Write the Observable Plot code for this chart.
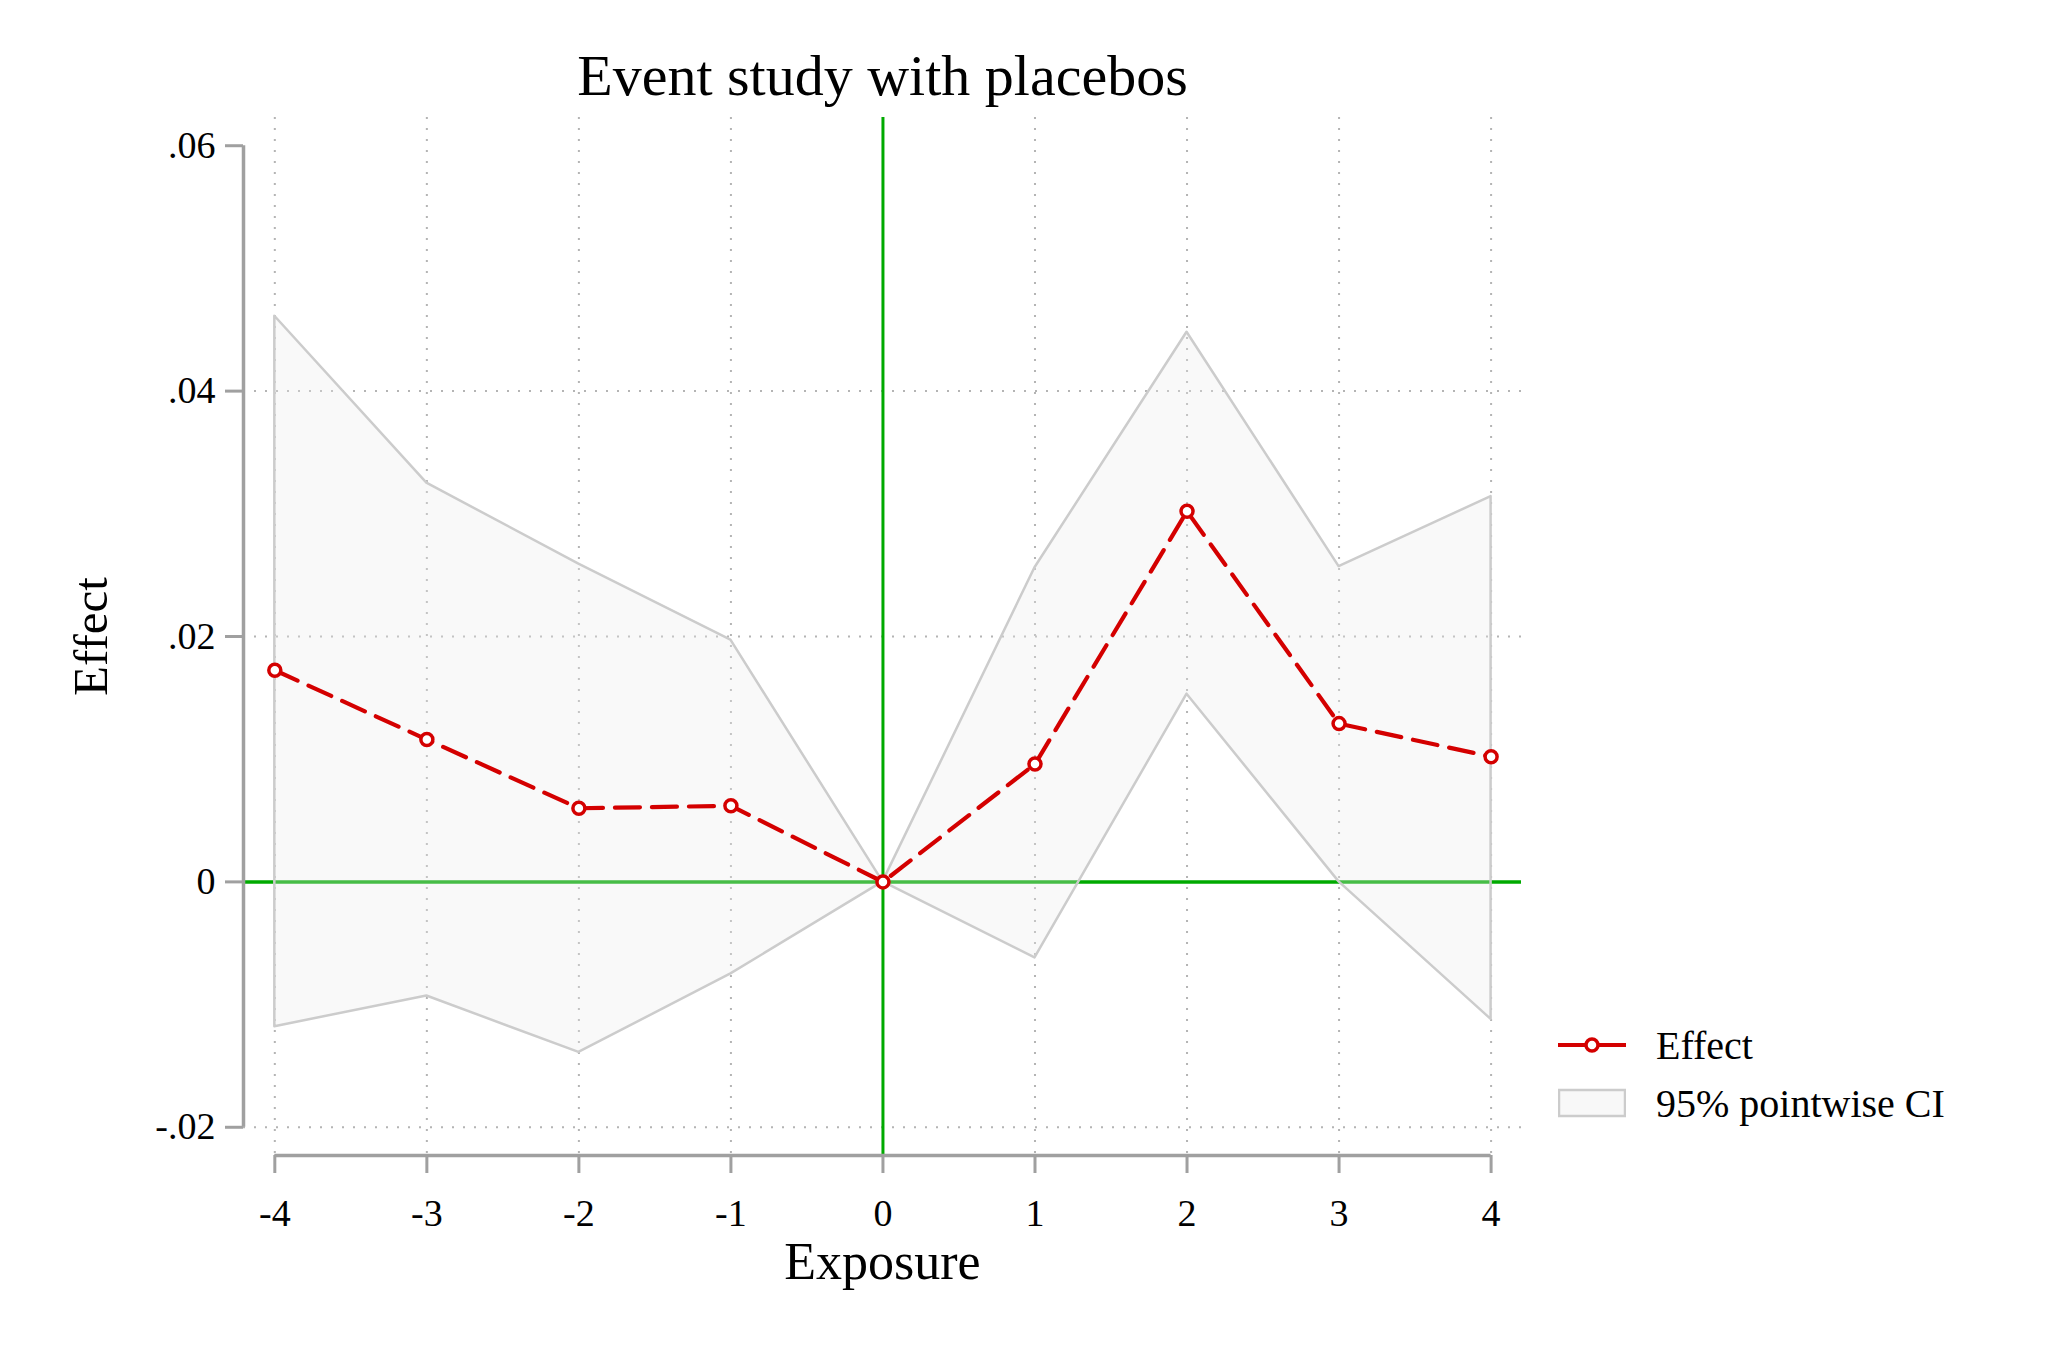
<!DOCTYPE html>
<html>
<head>
<meta charset="utf-8">
<script src="https://cdn.jsdelivr.net/npm/d3@7"></script>
<script src="https://cdn.jsdelivr.net/npm/@observablehq/plot@0.6"></script>
<style>
  html, body { margin: 0; padding: 0; background: #fff; }
  #wrap { position: relative; width: 2048px; height: 1365px; font-family: "Liberation Serif", serif; }
  #legend { position: absolute; left: 1558px; top: 1020px; font-size: 40px; color: #000; }
  .row { display: flex; align-items: center; height: 50px; margin-bottom: 8px; }
  .row svg { margin-right: 30px; }
</style>
</head>
<body>
<div id="wrap">
  <div id="chart"></div>
  <div id="legend">
    <div class="row">
      <svg width="68" height="30"><line x1="0" y1="15" x2="68" y2="15" stroke="#d40000" stroke-width="4.2"/><circle cx="34" cy="15" r="6" fill="#fff" stroke="#d40000" stroke-width="3.5"/></svg>
      <span>Effect</span>
    </div>
    <div class="row">
      <svg width="68" height="30"><rect x="1" y="2" width="66" height="26" fill="#f8f8f8" stroke="#cccccc" stroke-width="2.5"/></svg>
      <span>95% pointwise CI</span>
    </div>
  </div>
</div>
<script>
const exposure = [-4, -3, -2, -1, 0, 1, 2, 3, 4];
const effect   = [0.01725, 0.0116, 0.0060, 0.0062, 0, 0.0096, 0.0302, 0.0129, 0.0102];
const ciLower  = [-0.0118, -0.0093, -0.0139, -0.0075, 0, -0.0062, 0.0153, 0.0000, -0.0112];
const ciUpper  = [0.0461, 0.0325, 0.0259, 0.0197, 0, 0.0256, 0.0448, 0.0257, 0.0314];
const xTicks = [-4, -3, -2, -1, 0, 1, 2, 3, 4];
const yTicks = [-0.02, 0, 0.02, 0.04, 0.06];
const yTickLabels = ["-.02", "0", ".02", ".04", ".06"];
const yGrid = [-0.02, 0.02, 0.04];
const titleText = "Event study with placebos";
const xLabel = "Exposure";
const yLabel = "Effect";

const data = exposure.map((x, i) => ({x, effect: effect[i], lo: ciLower[i], hi: ciUpper[i]}));
const xDomain = [-4.206, 4.2];
const yDomain = [-0.0223, 0.0623];
const axisGray = "#a0a0a0";
const gridGray = "#b4b4b4";
const green = "#00aa00";
const red = "#d40000";

const chart = Plot.plot({
  width: 2048,
  height: 1365,
  marginLeft: 243,
  marginRight: 527,
  marginTop: 117,
  marginBottom: 210,
  style: {fontFamily: "Liberation Serif, serif", fontSize: "38px", color: "#000", background: "#fff", overflow: "visible"},
  x: {domain: xDomain},
  y: {domain: yDomain},
  marks: [
    Plot.gridX(xTicks, {stroke: gridGray, strokeOpacity: 1, strokeWidth: 2, strokeDasharray: "2,9"}),
    Plot.gridY(yGrid, {stroke: gridGray, strokeOpacity: 1, strokeWidth: 2, strokeDasharray: "2,9"}),
    Plot.ruleY([0], {stroke: green, strokeWidth: 3.5}),
    Plot.areaY(data, {x: "x", y1: "lo", y2: "hi", fill: "#ebebeb", fillOpacity: 0.3, stroke: "#cccccc", strokeWidth: 2.5}),
    Plot.ruleX([0], {stroke: green, strokeWidth: 3}),
    Plot.line(data, {x: "x", y: "effect", stroke: red, strokeWidth: 4.2, strokeDasharray: "25,12"}),
    Plot.dot(data, {x: "x", y: "effect", r: 6, stroke: red, strokeWidth: 3.5, fill: "#fff"}),
    // axis lines
    Plot.ruleY([yDomain[0]], {x1: -4, x2: 4, stroke: axisGray, strokeWidth: 3.5}),
    Plot.ruleX([xDomain[0]], {y1: -0.02, y2: 0.06, stroke: axisGray, strokeWidth: 3.5}),
    Plot.axisX({ticks: xTicks, tickFormat: d => String(d), tickSize: 18, tickPadding: 26, stroke: axisGray, strokeWidth: 3, label: null}),
    Plot.axisY({ticks: yTicks, tickFormat: d => yTickLabels[yTicks.indexOf(d)], tickSize: 18, tickPadding: 10, stroke: axisGray, strokeWidth: 3, label: null}),
    Plot.text([titleText], {frameAnchor: "top", dy: -41, fontSize: 58, lineAnchor: "middle", textAnchor: "middle"}),
    Plot.text([xLabel], {frameAnchor: "bottom", dy: 107, fontSize: 52, lineAnchor: "middle", textAnchor: "middle"}),
    Plot.text([yLabel], {frameAnchor: "left", dx: -152, rotate: -90, fontSize: 49, lineAnchor: "middle", textAnchor: "middle"})
  ]
});
document.getElementById("chart").appendChild(chart);
</script>
</body>
</html>
